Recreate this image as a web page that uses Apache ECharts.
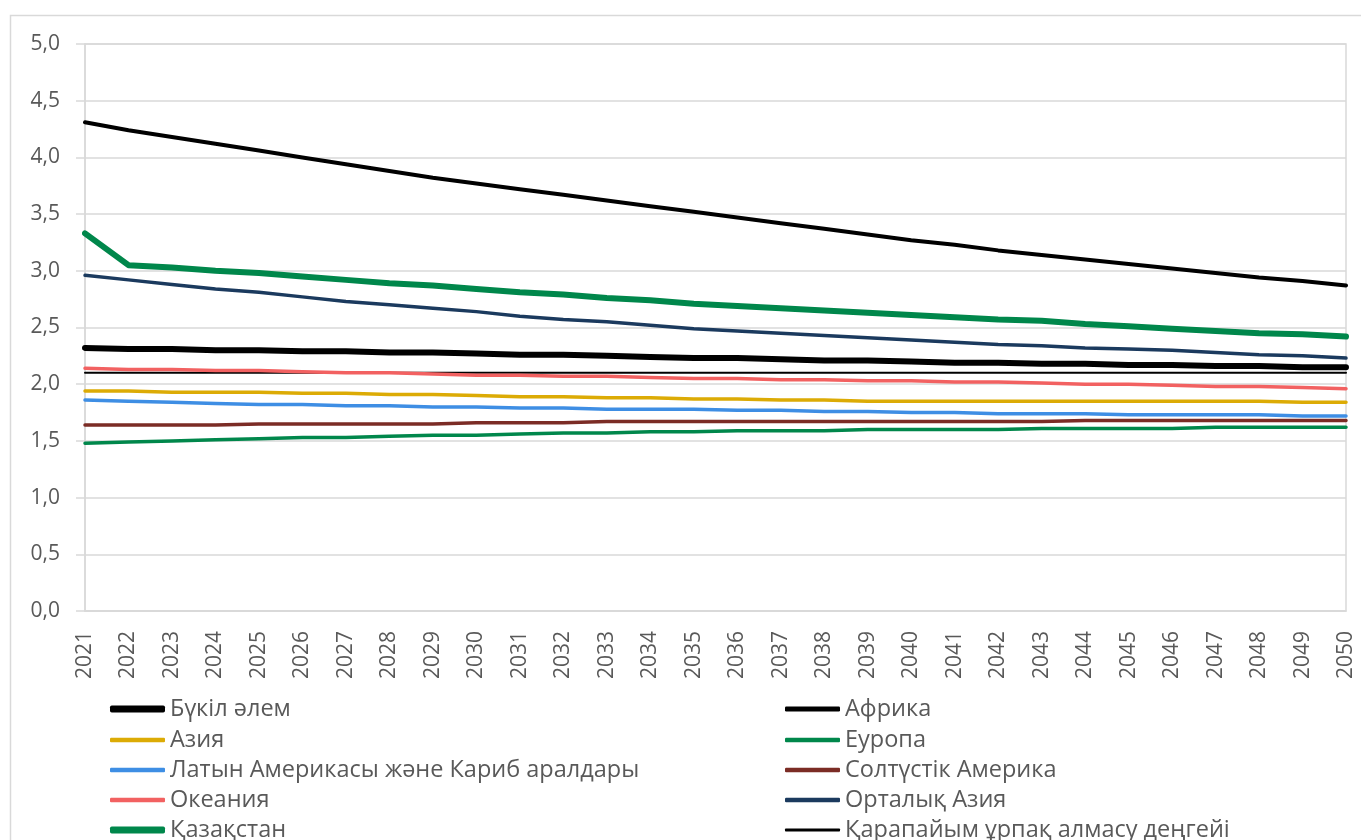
<!DOCTYPE html>
<html>
<head>
<meta charset="utf-8">
<style>
  html, body { margin: 0; padding: 0; background: #ffffff; }
  #chart { width: 1361px; height: 840px; }
</style>
<script src="https://cdn.jsdelivr.net/npm/echarts@6/dist/echarts.min.js"></script>
</head>
<body>
<div id="chart"></div>
<script>
// Total fertility rate projections, 2021–2050
const years = ['2021','2022','2023','2024','2025','2026','2027','2028','2029','2030',
  '2031','2032','2033','2034','2035','2036','2037','2038','2039','2040',
  '2041','2042','2043','2044','2045','2046','2047','2048','2049','2050'];

const world = [2.32,2.31,2.31,2.30,2.30,2.29,2.29,2.28,2.28,2.27,2.26,2.26,2.25,2.24,2.23,
  2.23,2.22,2.21,2.21,2.20,2.19,2.19,2.18,2.18,2.17,2.17,2.16,2.16,2.15,2.15];
const africa = [4.31,4.24,4.18,4.12,4.06,4.00,3.94,3.88,3.82,3.77,3.72,3.67,3.62,3.57,3.52,
  3.47,3.42,3.37,3.32,3.27,3.23,3.18,3.14,3.10,3.06,3.02,2.98,2.94,2.91,2.87];
const asia = [1.94,1.94,1.93,1.93,1.93,1.92,1.92,1.91,1.91,1.90,1.89,1.89,1.88,1.88,1.87,
  1.87,1.86,1.86,1.85,1.85,1.85,1.85,1.85,1.85,1.85,1.85,1.85,1.85,1.84,1.84];
const europe = [1.48,1.49,1.50,1.51,1.52,1.53,1.53,1.54,1.55,1.55,1.56,1.57,1.57,1.58,1.58,
  1.59,1.59,1.59,1.60,1.60,1.60,1.60,1.61,1.61,1.61,1.61,1.62,1.62,1.62,1.62];
const latinAmerica = [1.86,1.85,1.84,1.83,1.82,1.82,1.81,1.81,1.80,1.80,1.79,1.79,1.78,1.78,1.78,
  1.77,1.77,1.76,1.76,1.75,1.75,1.74,1.74,1.74,1.73,1.73,1.73,1.73,1.72,1.72];
const northAmerica = [1.64,1.64,1.64,1.64,1.65,1.65,1.65,1.65,1.65,1.66,1.66,1.66,1.67,1.67,1.67,
  1.67,1.67,1.67,1.67,1.67,1.67,1.67,1.67,1.68,1.68,1.68,1.68,1.68,1.68,1.68];
const oceania = [2.14,2.13,2.13,2.12,2.12,2.11,2.10,2.10,2.09,2.08,2.08,2.07,2.07,2.06,2.05,
  2.05,2.04,2.04,2.03,2.03,2.02,2.02,2.01,2.00,2.00,1.99,1.98,1.98,1.97,1.96];
const centralAsia = [2.96,2.92,2.88,2.84,2.81,2.77,2.73,2.70,2.67,2.64,2.60,2.57,2.55,2.52,2.49,
  2.47,2.45,2.43,2.41,2.39,2.37,2.35,2.34,2.32,2.31,2.30,2.28,2.26,2.25,2.23];
const kazakhstan = [3.33,3.05,3.03,3.00,2.98,2.95,2.92,2.89,2.87,2.84,2.81,2.79,2.76,2.74,2.71,
  2.69,2.67,2.65,2.63,2.61,2.59,2.57,2.56,2.53,2.51,2.49,2.47,2.45,2.44,2.42];
const replacement = [2.1,2.1,2.1,2.1,2.1,2.1,2.1,2.1,2.1,2.1,2.1,2.1,2.1,2.1,2.1,
  2.1,2.1,2.1,2.1,2.1,2.1,2.1,2.1,2.1,2.1,2.1,2.1,2.1,2.1,2.1];

const yTicks = { min: 0, max: 5, step: 0.5 };

const names = {
  world: 'Бүкіл әлем',
  africa: 'Африка',
  asia: 'Азия',
  europe: 'Еуропа',
  latinAmerica: 'Латын Америкасы және Кариб аралдары',
  northAmerica: 'Солтүстік Америка',
  oceania: 'Океания',
  centralAsia: 'Орталық Азия',
  kazakhstan: 'Қазақстан',
  replacement: 'Қарапайым ұрпақ алмасу деңгейі'
};

const FONT = '"Open Sans", "Noto Sans", sans-serif';
const TEXT = '#595959';
const GRID = '#d9d9d9';

// [key, colour, line width]
const styles = [
  ['replacement', '#000000', 2],
  ['europe', '#00874b', 3.5],
  ['northAmerica', '#7b2c25', 3.5],
  ['latinAmerica', '#3e8ee4', 3.5],
  ['asia', '#dcab05', 3.5],
  ['oceania', '#f26161', 3.5],
  ['centralAsia', '#1b3a5e', 3.5],
  ['africa', '#000000', 4],
  ['world', '#000000', 6],
  ['kazakhstan', '#00874b', 6]
];
const dataByKey = { world, africa, asia, europe, latinAmerica, northAmerica,
  oceania, centralAsia, kazakhstan, replacement };

const series = styles.map(([key, color, width]) => ({
  name: names[key],
  type: 'line',
  data: dataByKey[key],
  symbol: 'none',
  lineStyle: { color: color, width: width, cap: 'round', join: 'round' },
  itemStyle: { color: color },
  emphasis: { disabled: true }
}));

// Two-column legend, read row by row
const legendLeft = ['world', 'asia', 'latinAmerica', 'oceania', 'kazakhstan'];
const legendRight = ['africa', 'europe', 'northAmerica', 'centralAsia', 'replacement'];
const rowCentres = [709, 740, 770, 800, 830];

function legendItem(key, left, row) {
  const st = styles.find(s => s[0] === key);
  const h = st[2] + 1;
  return {
    left: left,
    top: rowCentres[row] - 12,
    padding: 0,
    icon: 'roundRect',
    itemWidth: 55,
    itemHeight: h,
    itemStyle: { color: st[1], borderWidth: 0 },
    selectedMode: false,
    textStyle: { color: TEXT, fontSize: 23.5, fontFamily: FONT, lineHeight: 24 },
    data: [names[key]]
  };
}
const legends = legendLeft.map((k, i) => legendItem(k, 110, i))
  .concat(legendRight.map((k, i) => legendItem(k, 785, i)));

const chart = echarts.init(document.getElementById('chart'), null, { renderer: 'canvas' });
chart.setOption({
  animation: false,
  backgroundColor: '#ffffff',
  graphic: [{
    type: 'rect',
    silent: true,
    shape: { x: 10.5, y: 15.5, width: 1400, height: 900 },
    style: { fill: 'none', stroke: GRID, lineWidth: 1.5 }
  }],
  grid: {
    left: 85, right: 15, top: 44, bottom: 229,
    show: true, borderColor: GRID, borderWidth: 1.5
  },
  legend: legends,
  xAxis: {
    type: 'category',
    data: years,
    boundaryGap: false,
    axisLine: { show: true, lineStyle: { color: GRID, width: 1.5 } },
    axisTick: { show: false },
    axisLabel: {
      interval: 0, rotate: 90, margin: 20,
      color: TEXT, fontSize: 21, fontFamily: FONT
    },
    splitLine: { show: false }
  },
  yAxis: {
    type: 'value',
    min: yTicks.min, max: yTicks.max, interval: yTicks.step,
    axisLine: { show: true, lineStyle: { color: GRID, width: 1.5 } },
    axisTick: { show: true, length: 9, lineStyle: { color: GRID, width: 1.5 } },
    axisLabel: {
      margin: 25, color: TEXT, fontSize: 21, fontFamily: FONT,
      formatter: v => v.toFixed(1).replace('.', ',')
    },
    splitLine: { show: true, lineStyle: { color: GRID, width: 1.5 } }
  },
  series: series
});
</script>
</body>
</html>
